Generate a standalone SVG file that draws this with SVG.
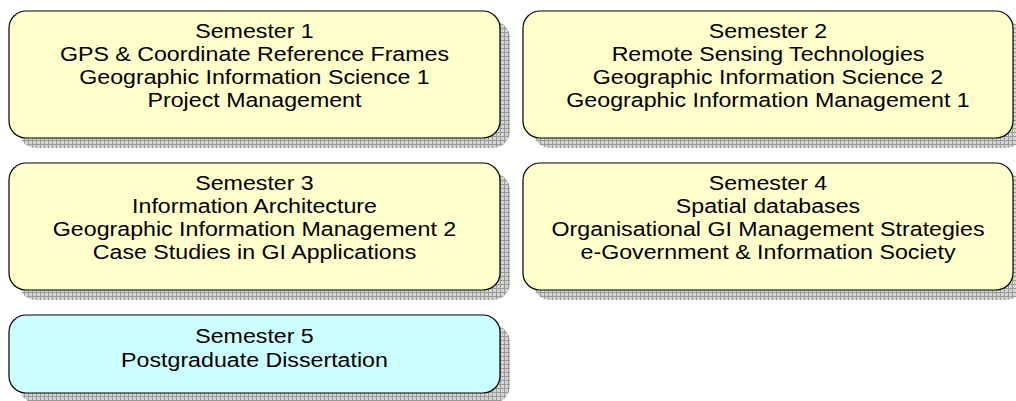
<svg xmlns="http://www.w3.org/2000/svg" width="1016" height="401" viewBox="0 0 1016 401">
<defs>
<pattern id="grid" width="4" height="4" patternUnits="userSpaceOnUse">
<rect width="4" height="4" fill="#d4d4d4"/>
<path d="M0 0.5H4M0.5 0V4" stroke="#9a9a9a" stroke-width="1"/>
</pattern>
</defs>
<style>
.shadow{fill:url(#grid);}
.box{stroke:#000;stroke-width:1.2;}
.y{fill:#ffffcc;}
.c{fill:#ccffff;}
text{font-family:"Liberation Sans",Arial,sans-serif;font-size:21px;fill:#000;text-anchor:middle;}
</style>
<g id="connectors"></g>
<g id="sem1">
<rect class="shadow" x="19" y="21" width="491" height="127" rx="17"/>
<rect class="box y" x="9" y="11" width="491" height="127" rx="17"/>
<text transform="translate(254.5 38) scale(1.105 1)">Semester 1</text>
<text transform="translate(254.5 61) scale(1.105 1)">GPS &amp; Coordinate Reference Frames</text>
<text transform="translate(254.5 84) scale(1.105 1)">Geographic Information Science 1</text>
<text transform="translate(254.5 107) scale(1.105 1)">Project Management</text>
</g>
<g id="sem2">
<rect class="shadow" x="533" y="21" width="490" height="127" rx="17"/>
<rect class="box y" x="523" y="11" width="490" height="127" rx="17"/>
<text transform="translate(768 38) scale(1.105 1)">Semester 2</text>
<text transform="translate(768 61) scale(1.105 1)">Remote Sensing Technologies</text>
<text transform="translate(768 84) scale(1.105 1)">Geographic Information Science 2</text>
<text transform="translate(768 107) scale(1.105 1)">Geographic Information Management 1</text>
</g>
<g id="sem3">
<rect class="shadow" x="19" y="173" width="491" height="127" rx="17"/>
<rect class="box y" x="9" y="163" width="491" height="127" rx="17"/>
<text transform="translate(254.5 190) scale(1.105 1)">Semester 3</text>
<text transform="translate(254.5 213) scale(1.105 1)">Information Architecture</text>
<text transform="translate(254.5 236) scale(1.105 1)">Geographic Information Management 2</text>
<text transform="translate(254.5 259) scale(1.105 1)">Case Studies in GI Applications</text>
</g>
<g id="sem4">
<rect class="shadow" x="533" y="173" width="490" height="127" rx="17"/>
<rect class="box y" x="523" y="163" width="490" height="127" rx="17"/>
<text transform="translate(768 190) scale(1.105 1)">Semester 4</text>
<text transform="translate(768 213) scale(1.105 1)">Spatial databases</text>
<text transform="translate(768 236) scale(1.105 1)">Organisational GI Management Strategies</text>
<text transform="translate(768 259) scale(1.105 1)">e-Government &amp; Information Society</text>
</g>
<g id="sem5">
<rect class="shadow" x="19" y="325" width="491" height="78" rx="17"/>
<rect class="box c" x="9" y="315" width="491" height="78" rx="17"/>
<text transform="translate(254.5 343) scale(1.105 1)">Semester 5</text>
<text transform="translate(254.5 367) scale(1.105 1)">Postgraduate Dissertation</text>
</g>
</svg>
